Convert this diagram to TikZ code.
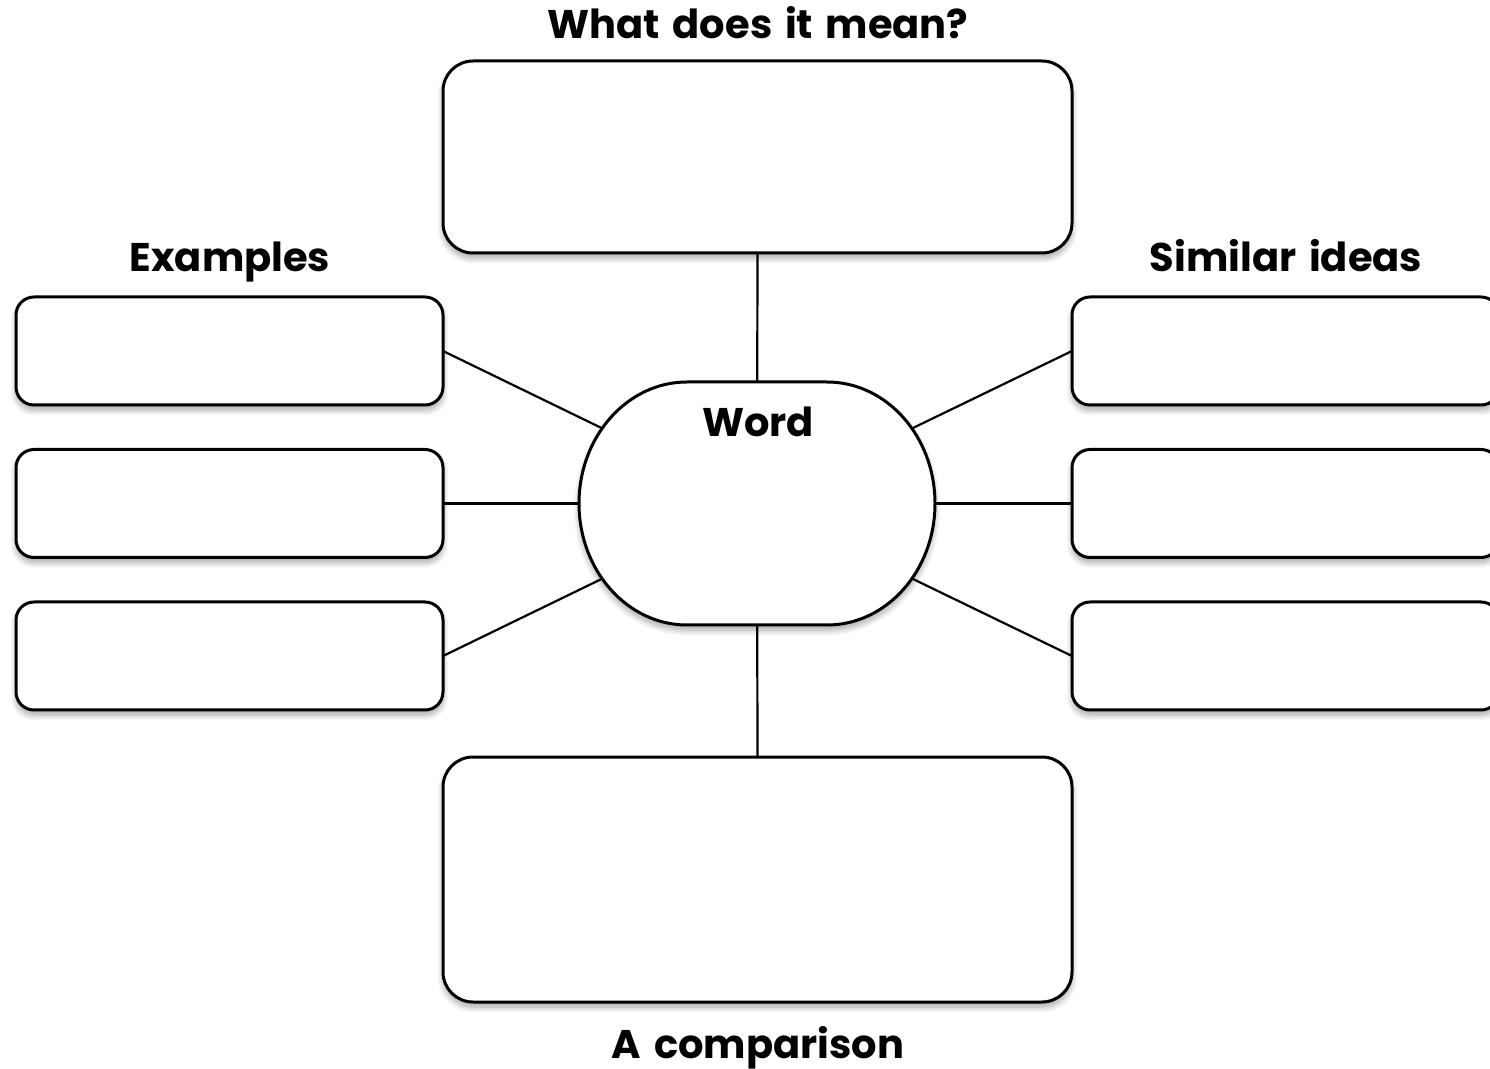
\documentclass[tikz,border=0pt]{standalone}
\usepackage{fontspec}
\newfontfamily\lab{Poppins}[WordSpace=1.5]
\usetikzlibrary{shadows.blur,backgrounds}
\tikzset{
  shd/.style={blur shadow={shadow xshift=0pt, shadow yshift=-2.5pt, shadow blur radius=3pt, shadow blur steps=10, shadow opacity=35}},
  smallbox/.style={draw=black, fill=white, line width=1.5pt, rounded corners=9pt, minimum width=213.5pt, minimum height=54pt, inner sep=0pt, outer sep=0pt, shd},
  bigbox/.style={draw=black, fill=white, line width=1.5pt, rounded corners=15pt, minimum width=314.5pt, inner sep=0pt, outer sep=0pt, shd},
  title/.style={font=\lab\bfseries\fontsize{20}{23}\selectfont, inner sep=0pt, anchor=base},
  link/.style={draw=black, line width=1.1pt}
}
\begin{document}
\begin{tikzpicture}[x=0.5pt,y=-0.5pt]
\useasboundingbox (0,0) rectangle (1490,1069);
\clip (0,0) rectangle (1490,1069);
% boxes
\node[bigbox, minimum height=96pt] (top) at (757.5,157) {};
\node[bigbox, minimum height=122.5pt] (bottom) at (757.5,879.5) {};
\node[smallbox] (l1) at (229.5,351) {};
\node[smallbox] (l2) at (229.5,503.5) {};
\node[smallbox] (l3) at (229.5,656) {};
\node[smallbox] (r1) at (1285.5,351) {};
\node[smallbox] (r2) at (1285.5,503.5) {};
\node[smallbox] (r3) at (1285.5,656) {};
% centre shape
\coordinate (ctr) at (757,503.5);
\path[draw=black, fill=white, line width=1.5pt, shd]
  ([xshift=-35pt,yshift=60.75pt]ctr) -- ([xshift=35pt,yshift=60.75pt]ctr)
  arc[start angle=90, end angle=-90, x radius=54pt, y radius=60.75pt]
  -- ([xshift=-35pt,yshift=-60.75pt]ctr)
  arc[start angle=270, end angle=90, x radius=54pt, y radius=60.75pt] -- cycle;
% labels
\node[title] (t1) at (758,39) {What does it mean?};
\node[title] (t2) at (230,272) {Examples};
\node[title] (t3) at (1286,272) {Similar ideas};
\node[title] (t4) at (758,437) {Word};
\node[title] (t5) at (758,1058) {A comparison};
% connectors
\begin{scope}[on background layer]
\draw[link] (top.south) -- (ctr);
\draw[link] (bottom.north) -- (ctr);
\draw[link] (l1.east) -- (ctr);
\draw[link] (l2.east) -- (ctr);
\draw[link] (l3.east) -- (ctr);
\draw[link] (r1.west) -- (ctr);
\draw[link] (r2.west) -- (ctr);
\draw[link] (r3.west) -- (ctr);
\end{scope}
\end{tikzpicture}
\end{document}
